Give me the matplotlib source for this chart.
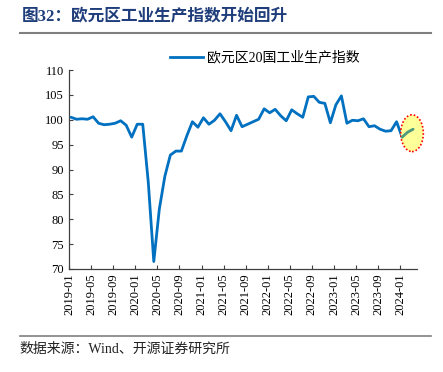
"""Euro area industrial production index, 2019-01 .. 2024-03 (figure 32 recreation)."""
import pandas as pd
import matplotlib
matplotlib.use("Agg")
import matplotlib.pyplot as plt
from matplotlib.patches import Ellipse
from matplotlib.lines import Line2D

# ------------------------------------------------------------------ data
MONTHS = pd.date_range("2019-01", "2024-03", freq="MS").strftime("%Y-%m").tolist()
IP_INDEX = [
    100.5, 100.1, 100.2, 100.1, 100.6, 99.3, 99.0, 99.1, 99.3, 99.8, 98.9, 96.5,   # 2019
    99.1, 99.1, 87.5, 71.5, 82.0, 88.6, 92.9, 93.7, 93.7, 96.8, 99.6, 98.5,        # 2020
    100.4, 99.1, 99.9, 101.2, 99.6, 97.8, 100.9, 98.6, 99.1, 99.6, 100.1, 102.2,   # 2021
    101.4, 102.1, 100.8, 99.8, 102.0, 101.2, 100.5, 104.6, 104.7, 103.5, 103.3, 99.4,  # 2022
    103.0, 104.8, 99.3, 99.9, 99.8, 100.2, 98.6, 98.8, 98.1, 97.7, 97.8, 99.6,     # 2023
    96.5, 97.5, 98.1,                                                              # 2024
]
HIGHLIGHT_FROM = "2024-01"          # recent rebound drawn in green
TICK_EVERY = 4
YTICKS = list(range(70, 111, 5))

TITLE = "图32：欧元区工业生产指数开始回升"
LEGEND = "欧元区20国工业生产指数"
SOURCE = "数据来源：Wind、开源证券研究所"

BLUE = "#0070C0"
GREEN = "#4E9A7C"
NAVY = "#1F3D7A"
MIXED = ["Liberation Serif", "Noto Sans CJK SC"]

plt.rcParams["font.family"] = MIXED


def main():
    fig = plt.figure(figsize=(4.43, 3.72), dpi=100)
    ax = fig.add_axes([0.1558, 0.2769, 0.7855, 0.5349])

    x = list(range(len(MONTHS)))
    h = MONTHS.index(HIGHLIGHT_FROM)
    ax.plot(x[:h + 1], IP_INDEX[:h + 1], color=BLUE, lw=2.0,
            solid_joinstyle="round", solid_capstyle="round", zorder=3)

    # highlight bubble + recent segment
    xs, ys = x[h:], IP_INDEX[h:]
    cx = (xs[0] + xs[-1]) / 2 + 0.8
    cy = (min(ys) + max(ys)) / 2
    ax.add_patch(Ellipse((cx, cy), 4.1, 7.4, facecolor="#FFFF99",
                         edgecolor="red", ls=(0, (1, 1.2)), lw=1.2, zorder=4,
                         clip_on=False))
    ax.plot(xs, ys, color=GREEN, lw=2.0, solid_capstyle="round", zorder=5,
            clip_on=False)

    ax.set_xlim(-0.36, len(MONTHS) - 0.3)
    ax.set_ylim(70, 110)
    tick_pos = x[::TICK_EVERY]
    ax.set_xticks([p - 0.35 for p in tick_pos])
    ax.set_xticklabels(MONTHS[::TICK_EVERY], rotation=90, fontsize=9,
                       family="Liberation Serif")
    ax.set_yticks(YTICKS)
    ax.set_yticklabels([str(v) for v in YTICKS], fontsize=9, family="Liberation Serif")
    ax.tick_params(axis="both", direction="in", length=3, width=0.8, color="#404040")
    ax.tick_params(axis="x", pad=3)
    for side in ("top", "right"):
        ax.spines[side].set_visible(False)
    for side in ("left", "bottom"):
        ax.spines[side].set_color("#404040")
        ax.spines[side].set_linewidth(0.9)

    handle = Line2D([], [], color=BLUE, lw=2.0)
    fig.legend([handle], [LEGEND], loc="center", bbox_to_anchor=(0.598, 0.845),
               frameon=False, fontsize=10, handlelength=2.4, handletextpad=0.3)

    # title block and footer
    fig.text(0.05, 0.957, TITLE, fontsize=12, fontweight="bold", color=NAVY,
             ha="left", va="center")
    fig.add_artist(Line2D([0.045, 0.972], [0.911, 0.911], color="#808080", lw=1.5))
    fig.add_artist(Line2D([0.045, 0.972], [0.097, 0.097], color="#808080", lw=1.2))
    fig.text(0.045, 0.062, SOURCE, fontsize=10, color="#222222", ha="left", va="center")

    fig.savefig("out.png", dpi=100)


if __name__ == "__main__":
    main()
